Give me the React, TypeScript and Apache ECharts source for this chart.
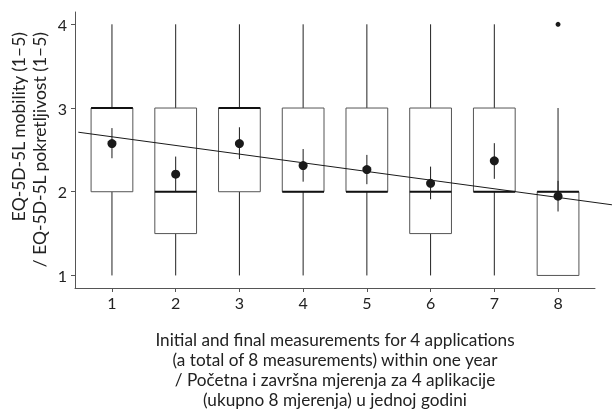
import React, { useEffect, useRef } from "react";
import * as echarts from "echarts";

const categories = [1, 2, 3, 4, 5, 6, 7, 8];
const whiskerLow = [1, 1, 1, 1, 1, 1, 1, 1];
const q1 = [2, 1.5, 2, 2, 2, 1.5, 2, 1];
const median = [3, 2, 3, 2, 2, 2, 2, 2];
const q3 = [3, 3, 3, 3, 3, 3, 3, 2];
const whiskerHigh = [4, 4, 4, 4, 4, 4, 4, 3];
const outliers = [[8, 4]];
const means = [2.575, 2.21, 2.575, 2.313, 2.265, 2.1, 2.369, 1.947];
const ciLow = [2.4, 2.0, 2.39, 2.12, 2.09, 1.91, 2.154, 1.764];
const ciHigh = [2.76, 2.42, 2.77, 2.51, 2.44, 2.3, 2.58, 2.13];
const trendStart = [0.472, 2.711];
const trendEnd = [8.846, 1.844];
const xTicks = [1, 2, 3, 4, 5, 6, 7, 8];
const yTicks = [1, 2, 3, 4];
const yTitle = ["EQ-5D-5L mobility (1–5)", "/ EQ-5D-5L pokretljivost (1–5)"];
const xTitle = [
  "Initial and final measurements for 4 applications",
  "(a total of 8 measurements) within one year",
  "/ Početna i završna mjerenja za 4 aplikacije",
  "(ukupno 8 mjerenja) u jednoj godini",
];

const FONT = "Lato";
const BOX_W = 0.655;

export default function App() {
  const ref = useRef<HTMLDivElement>(null);
  useEffect(() => {
    const chart = echarts.init(ref.current!, null, { renderer: "svg" });
    const boxData = categories.map((c, i) => [c, whiskerLow[i], q1[i], median[i], q3[i], whiskerHigh[i]]);
    const errData = categories.map((c, i) => [c, ciLow[i], ciHigh[i]]);
    const meanData = categories.map((c, i) => [c, means[i]]);
    const trendData = [[trendStart[0], trendStart[1], trendEnd[0], trendEnd[1]]];

    const option: any = {
      animation: false,
      grid: { left: 75, right: 17, top: 12, bottom: 124, containLabel: false },
      xAxis: {
        type: "value",
        min: 0.42,
        max: 8.58,
        splitLine: { show: false },
        axisLine: { show: true, lineStyle: { color: "#555", width: 1 } },
        axisTick: { show: true, length: 4, lineStyle: { color: "#555" }, customValues: xTicks },
        axisLabel: { customValues: xTicks, color: "#222", fontFamily: FONT, fontSize: 16, margin: 6 },
      },
      yAxis: {
        type: "value",
        min: 0.85,
        max: 4.147,
        splitLine: { show: false },
        axisLine: { show: true, lineStyle: { color: "#555", width: 1 } },
        axisTick: { show: true, length: 4, lineStyle: { color: "#555" }, customValues: yTicks },
        axisLabel: { customValues: yTicks, color: "#222", fontFamily: FONT, fontSize: 16, margin: 8 },
      },
      series: [
        {
          type: "custom",
          data: boxData,
          dimensions: ["x", "min", "q1", "med", "q3", "max"],
          encode: { x: 0, y: [1, 2, 3, 4, 5] },
          z: 1,
          renderItem: (params: any, api: any) => {
            const x = api.value(0);
            const pMin = api.coord([x, api.value(1)]);
            const pQ1 = api.coord([x, api.value(2)]);
            const pMed = api.coord([x, api.value(3)]);
            const pQ3 = api.coord([x, api.value(4)]);
            const pMax = api.coord([x, api.value(5)]);
            const half = api.size([BOX_W, 0])[0] / 2;
            const cx = pMin[0];
            return {
              type: "group",
              children: [
                { type: "line", shape: { x1: cx, y1: pMin[1], x2: cx, y2: pQ1[1] }, style: { stroke: "#222", lineWidth: 1 } },
                { type: "line", shape: { x1: cx, y1: pQ3[1], x2: cx, y2: pMax[1] }, style: { stroke: "#222", lineWidth: 1 } },
                {
                  type: "rect",
                  shape: { x: cx - half, y: pQ3[1], width: half * 2, height: pQ1[1] - pQ3[1] },
                  style: { fill: "#fff", stroke: "#555", lineWidth: 1 },
                },
                {
                  type: "line",
                  shape: { x1: cx - half, y1: pMed[1], x2: cx + half, y2: pMed[1] },
                  style: { stroke: "#111", lineWidth: 2 },
                },
              ],
            };
          },
        },
        {
          type: "scatter",
          data: outliers,
          symbolSize: 5,
          itemStyle: { color: "#1a1a1a", opacity: 1 },
          z: 2,
        },
        {
          type: "custom",
          data: errData,
          dimensions: ["x", "lo", "hi"],
          encode: { x: 0, y: [1, 2] },
          z: 3,
          renderItem: (params: any, api: any) => {
            const x = api.value(0);
            const a = api.coord([x, api.value(1)]);
            const b = api.coord([x, api.value(2)]);
            return { type: "line", shape: { x1: a[0], y1: a[1], x2: b[0], y2: b[1] }, style: { stroke: "#1a1a1a", lineWidth: 1 } };
          },
        },
        {
          type: "custom",
          data: trendData,
          dimensions: ["x0", "y0", "x1", "y1"],
          encode: { x: [0, 2], y: [1, 3] },
          clip: false,
          z: 4,
          renderItem: (params: any, api: any) => {
            const a = api.coord([api.value(0), api.value(1)]);
            const b = api.coord([api.value(2), api.value(3)]);
            return { type: "line", shape: { x1: a[0], y1: a[1], x2: b[0], y2: b[1] }, style: { stroke: "#1a1a1a", lineWidth: 1 } };
          },
        },
        {
          type: "scatter",
          data: meanData,
          symbolSize: 9,
          itemStyle: { color: "#1a1a1a", opacity: 1 },
          z: 5,
        },
      ],
      graphic: [
        ...yTitle.map((t, i) => ({
          type: "text",
          x: 18 + i * 21,
          y: 32,
          rotation: Math.PI / 2,
          style: {
            text: t,
            fontFamily: FONT,
            fontSize: 17.5,
            fill: "#222",
            textAlign: "right",
            textVerticalAlign: "middle",
          },
        })),
        ...xTitle.map((t, i) => ({
          type: "text",
          x: 335,
          y: 339 + i * 20,
          style: {
            text: t,
            fontFamily: FONT,
            fontSize: 17.2,
            fill: "#222",
            textAlign: "center",
            textVerticalAlign: "middle",
          },
        })),
      ],
    };
    chart.setOption(option);
    return () => chart.dispose();
  }, []);
  return <div ref={ref} style={{ position: "fixed", left: 0, top: 0, width: 612, height: 412 }} />;
}
